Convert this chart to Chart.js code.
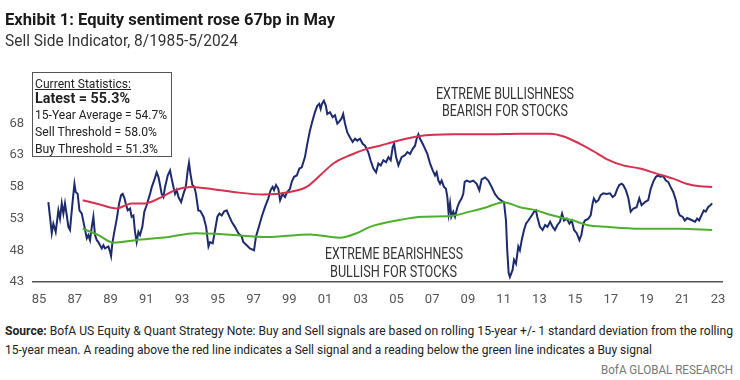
<!DOCTYPE html>
<html><head><meta charset="utf-8">
<script src="https://cdn.jsdelivr.net/npm/chart.js@4.4.1/dist/chart.umd.min.js"></script>
<style>
html,body{margin:0;padding:0;background:#fff;}
#wrap{position:relative;width:740px;height:380px;overflow:hidden;background:#fff;font-family:Roboto,"Open Sans",sans-serif;color:#222;}
#cv{position:absolute;left:0;top:0;}
.t{position:absolute;white-space:nowrap;line-height:1;transform-origin:0 0;}
#stats{position:absolute;left:32px;top:72px;width:140px;height:85px;border:1.5px solid #555;box-sizing:border-box;}
.ann{color:#333;font-size:16px;}
</style></head><body>
<div id="wrap">
<canvas id="cv" width="740" height="310" style="width:740px;height:310px"></canvas>
<div class="t" data-w="330" style="left:5px;top:12px;font-size:16.5px;font-weight:bold;color:#1a1a1a">Exhibit 1: Equity sentiment rose 67bp in May</div>
<div class="t" data-w="233" style="left:5px;top:33px;font-size:16px;color:#333">Sell Side Indicator, 8/1985-5/2024</div>
<div id="stats"></div>
<div class="t" data-w="96" style="left:35px;top:77.5px;font-size:12.5px;text-decoration:underline;">Current Statistics:</div>
<div class="t" data-w="95" style="left:35px;top:91px;font-size:14px;font-weight:bold;">Latest = 55.3%</div>
<div class="t" data-w="132" style="left:35px;top:108.5px;font-size:12.5px;">15-Year Average = 54.7%</div>
<div class="t" data-w="122" style="left:35px;top:125.5px;font-size:12.5px;">Sell Threshold = 58.0%</div>
<div class="t" data-w="123" style="left:35px;top:142.5px;font-size:12.5px;">Buy Threshold = 51.3%</div>
<div class="t ann" data-w="138" style="left:436px;top:86px;">EXTREME BULLISHNESS</div>
<div class="t ann" data-w="126" style="left:442px;top:103px;">BEARISH FOR STOCKS</div>
<div class="t ann" data-w="138" style="left:325px;top:246px;">EXTREME BEARISHNESS</div>
<div class="t ann" data-w="127" style="left:330px;top:264px;">BULLISH FOR STOCKS</div>
<div class="t" data-w="728" style="left:5px;top:325px;font-size:12.5px;color:#222"><b>Source:</b> BofA US Equity &amp; Quant Strategy Note: Buy and Sell signals are based on rolling 15-year +/- 1 standard deviation from the rolling</div>
<div class="t" data-w="647" style="left:5px;top:344px;font-size:12.5px;color:#222">15-year mean. A reading above the red line indicates a Sell signal and a reading below the green line indicates a Buy signal</div>
<div class="t" data-w="132" style="left:601px;top:364px;font-size:12.5px;color:#777">BofA GLOBAL RESEARCH</div>
</div>
<script>
// Sell Side Indicator (%), dates in decimal years as read on the chart's axis
const blueDates = [1985.52,1985.71,1985.80,1985.93,1986.08,1986.17,1986.27,1986.36,1986.45,1986.55,1986.64,1986.73,1986.83,1986.92,1986.98,1987.05,1987.16,1987.26,1987.39,1987.54,1987.67,1987.76,1987.85,1987.95,1988.04,1988.13,1988.23,1988.32,1988.41,1988.51,1988.60,1988.69,1988.88,1988.97,1989.03,1989.10,1989.21,1989.35,1989.48,1989.59,1989.68,1989.78,1989.85,1989.96,1990.09,1990.18,1990.28,1990.37,1990.46,1990.56,1990.65,1990.78,1990.89,1991.02,1991.21,1991.31,1991.45,1991.58,1991.68,1991.77,1991.86,1991.96,1992.05,1992.20,1992.33,1992.42,1992.52,1992.61,1992.70,1992.80,1992.95,1993.08,1993.21,1993.32,1993.39,1993.47,1993.58,1993.69,1993.78,1993.91,1994.03,1994.20,1994.35,1994.48,1994.57,1994.72,1994.85,1994.98,1995.09,1995.22,1995.35,1995.50,1995.65,1995.78,1995.96,1996.15,1996.34,1996.43,1996.62,1996.80,1997.03,1997.14,1997.33,1997.46,1997.64,1997.83,1997.96,1998.07,1998.15,1998.26,1998.39,1998.49,1998.63,1998.76,1998.89,1999.04,1999.14,1999.27,1999.42,1999.57,1999.70,1999.88,2000.01,2000.16,2000.31,2000.44,2000.57,2000.68,2000.76,2000.83,2000.94,2001.05,2001.13,2001.28,2001.43,2001.56,2001.69,2001.80,2001.93,2002.02,2002.12,2002.25,2002.40,2002.55,2002.68,2002.81,2002.96,2003.11,2003.24,2003.42,2003.55,2003.71,2003.86,2003.99,2004.12,2004.27,2004.42,2004.55,2004.68,2004.79,2004.87,2004.98,2005.11,2005.29,2005.48,2005.61,2005.76,2005.91,2006.04,2006.13,2006.23,2006.32,2006.47,2006.60,2006.73,2006.88,2007.03,2007.16,2007.25,2007.35,2007.44,2007.53,2007.66,2007.77,2007.85,2007.92,2008.00,2008.07,2008.18,2008.28,2008.41,2008.52,2008.65,2008.74,2008.82,2008.93,2009.11,2009.30,2009.49,2009.64,2009.77,2009.96,2010.14,2010.33,2010.51,2010.70,2010.89,2011.02,2011.13,2011.20,2011.28,2011.35,2011.50,2011.58,2011.69,2011.82,2011.91,2012.01,2012.14,2012.25,2012.38,2012.57,2012.70,2012.81,2012.88,2013.03,2013.18,2013.32,2013.45,2013.60,2013.74,2013.87,2014.01,2014.15,2014.27,2014.38,2014.53,2014.68,2014.81,2014.94,2015.09,2015.24,2015.35,2015.46,2015.55,2015.74,2015.87,2015.98,2016.05,2016.17,2016.30,2016.43,2016.58,2016.76,2016.95,2017.10,2017.23,2017.36,2017.47,2017.60,2017.69,2017.84,2017.98,2018.11,2018.26,2018.44,2018.59,2018.72,2018.91,2019.09,2019.23,2019.37,2019.52,2019.65,2019.78,2019.93,2020.08,2020.21,2020.34,2020.49,2020.64,2020.77,2020.86,2021.01,2021.14,2021.27,2021.42,2021.57,2021.71,2021.83,2021.94,2022.07,2022.20,2022.31,2022.44,2022.57,2022.67];
const blueValues = [55.6,50.7,52.2,50.9,54.3,53.0,55.4,53.8,55.4,53.5,51.7,51.2,54.3,56.9,58.5,57.2,56.9,54.3,53.8,51.7,49.9,50.4,49.6,51.7,53.3,50.4,49.6,49.3,48.8,48.3,48.8,48.3,48.6,47.8,47.1,49.1,50.9,53.0,55.4,56.7,56.9,56.2,55.4,54.3,54.6,53.3,53.5,50.9,49.3,50.9,50.4,51.7,54.1,55.1,56.9,58.0,59.1,60.3,59.6,58.3,56.9,56.4,58.0,59.8,60.6,59.3,58.0,56.9,57.5,56.4,55.6,56.9,58.0,60.6,61.8,60.1,58.3,58.0,56.9,54.3,54.2,53.3,51.7,48.6,49.3,49.1,51.2,53.3,53.8,53.5,54.1,54.3,53.3,52.5,51.7,50.7,50.2,49.3,48.8,48.3,48.0,50.2,52.0,53.3,54.8,56.2,57.5,58.0,57.5,58.3,57.7,55.9,56.9,56.4,57.2,57.7,58.8,59.6,59.8,60.9,61.1,62.7,64.8,66.9,68.5,69.8,70.8,71.1,70.3,71.1,71.6,70.8,69.5,69.8,69.0,69.3,68.0,68.3,68.8,69.5,68.0,66.6,65.8,65.1,65.6,65.3,65.6,64.8,64.5,63.5,62.2,60.9,60.3,61.7,61.4,62.2,61.9,62.7,62.2,64.3,64.8,62.7,61.4,62.7,63.0,63.5,63.2,64.0,64.5,65.6,66.3,65.6,64.8,64.0,63.2,61.7,60.6,59.8,60.3,59.0,58.5,59.0,58.0,57.7,56.4,53.8,55.4,53.3,54.1,53.3,54.8,55.6,56.2,56.9,58.8,59.0,58.8,59.0,58.5,57.5,59.2,59.5,59.0,58.0,56.9,56.2,55.8,55.6,52.7,48.0,44.4,43.8,44.9,46.5,45.9,48.6,48.0,49.6,51.2,52.2,52.7,53.5,54.1,54.3,53.3,51.7,51.2,52.0,51.7,52.5,51.7,51.2,52.0,52.5,53.8,52.7,53.0,52.2,52.7,51.2,50.7,49.6,50.4,52.2,52.7,53.0,53.5,55.4,56.2,55.6,55.9,56.7,57.0,56.9,57.0,56.4,56.7,57.7,58.3,58.5,58.3,57.5,56.2,54.1,54.6,54.8,56.2,55.1,55.6,55.9,57.7,58.8,59.6,59.8,59.6,59.7,59.0,58.8,58.0,57.2,55.9,54.1,53.5,53.3,52.7,53.1,52.9,52.7,52.5,53.0,52.7,53.5,54.3,54.1,54.8,55.1,55.4];
// Sell threshold (rolling 15-yr mean + 1 sd), red
const sellDates = [1987.44,1988.30,1989.35,1990.18,1990.93,1991.86,1992.61,1993.54,1994.83,1995.87,1997.55,1999.04,1999.97,2000.72,2001.47,2002.40,2003.33,2004.08,2004.82,2006.23,2008.18,2010.05,2011.91,2013.59,2014.32,2015.27,2016.23,2016.76,2017.69,2018.63,2019.56,2020.49,2021.23,2021.98,2022.67];
const sellValues = [55.9,55.3,54.6,55.4,55.4,56.4,57.5,58.0,57.6,57.2,56.8,57.2,58.0,59.8,61.7,63.0,64.0,64.5,65.1,66.0,66.3,66.3,66.4,66.4,66.0,64.8,63.3,62.4,61.4,60.9,60.1,59.3,58.5,58.1,58.0];
// Buy threshold (rolling 15-yr mean - 1 sd), green
const buyDates = [1987.44,1988.32,1989.16,1990.37,1992.24,1993.73,1994.85,1995.87,1997.74,2000.16,2001.84,2002.77,2003.52,2005.01,2006.50,2008.00,2009.11,2010.05,2010.98,2011.91,2012.85,2013.59,2014.90,2015.65,2016.76,2018.63,2020.86,2022.67];
const buyValues = [51.4,50.4,49.2,49.6,50.1,50.7,50.6,50.4,50.1,50.5,50.0,50.7,51.7,52.7,53.3,53.4,54.1,54.8,55.6,54.8,54.3,53.6,52.7,52.0,51.7,51.4,51.4,51.2];
// Axis ticks
const xTickYears = [1985,1987,1989,1991,1993,1995,1997,1999,2001,2003,2005,2007,2009,2011,2013,2015,2017,2019,2021,2023];
const yTicks = [43,48,53,58,63,68];

// Fit text widths to the reference (condensed look)
document.querySelectorAll('[data-w]').forEach(el => {
  const w = el.getBoundingClientRect().width;
  if (w > 0) el.style.transform = 'scaleX(' + (parseFloat(el.dataset.w) / w) + ')';
});

const FONT = 'Roboto, "Open Sans", sans-serif';
const pts = (xs, ys) => xs.map((x, i) => ({x, y: ys[i]}));

new Chart(document.getElementById('cv').getContext('2d'), {
  type: 'line',
  data: { datasets: [
    { label: 'Sell threshold', data: pts(sellDates, sellValues), borderColor: '#d7304f', borderWidth: 2, pointRadius: 0, cubicInterpolationMode: 'monotone' },
    { label: 'Buy threshold', data: pts(buyDates, buyValues), borderColor: '#4db02c', borderWidth: 2, pointRadius: 0, cubicInterpolationMode: 'monotone' },
    { label: 'Sell Side Indicator', data: pts(blueDates, blueValues), borderColor: '#1c2b6e', borderWidth: 2, pointRadius: 0, tension: 0 }
  ]},
  options: {
    responsive: false, animation: false,
    layout: { padding: { top: 95, right: 18, left: 0, bottom: 0 } },
    plugins: { legend: { display: false }, tooltip: { enabled: false } },
    scales: {
      x: {
        type: 'linear', min: 1984.66, max: 2023.22,
        afterBuildTicks: s => { s.ticks = xTickYears.map(v => ({ value: v })); },
        afterFit: s => { s.height = 28; },
        ticks: { autoSkip: false, maxRotation: 0, padding: 10, color: '#555', font: { family: FONT, size: 13 },
                 callback: v => String(v).slice(2) },
        grid: { drawOnChartArea: false, drawTicks: false },
        border: { display: true, color: '#555', width: 1.5 }
      },
      y: {
        min: 43, max: 72.5,
        afterBuildTicks: s => { s.ticks = yTicks.map(v => ({ value: v })); },
        afterFit: s => { s.width = 33; },
        ticks: { padding: 9, color: '#555', font: { family: FONT, size: 13 } },
        grid: { drawOnChartArea: false, drawTicks: false },
        border: { display: false }
      }
    }
  }
});
</script>
</body></html>
